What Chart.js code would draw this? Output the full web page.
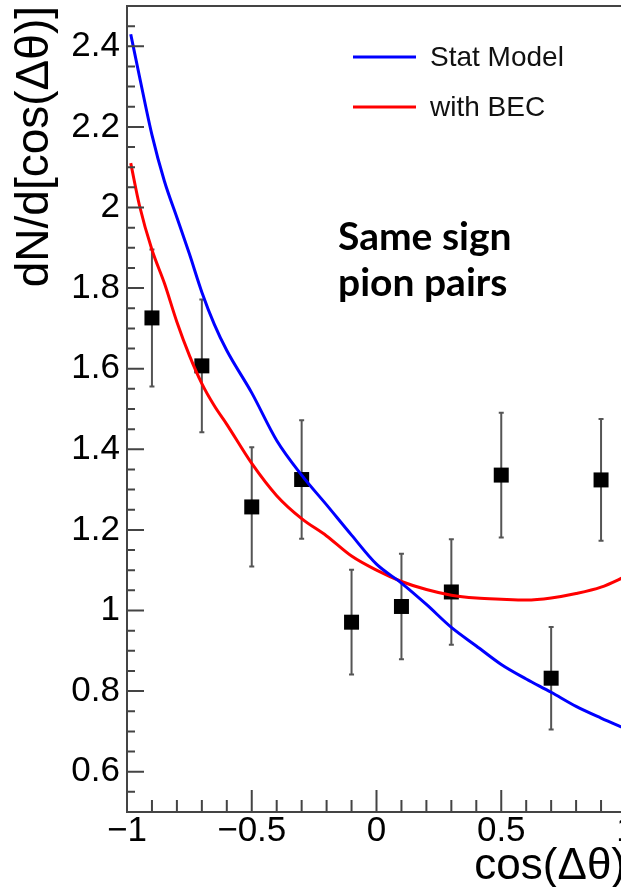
<!DOCTYPE html>
<html>
<head>
<meta charset="utf-8">
<script src="https://cdn.jsdelivr.net/npm/chart.js@4/dist/chart.umd.min.js"></script>
<style>
  html, body { margin: 0; padding: 0; background: #fff; overflow: hidden; }
  #wrap { position: relative; width: 640px; height: 887px; }
</style>
</head>
<body>
<div id="wrap"><canvas id="chart"></canvas></div>
<script>
// model curves
const curveX = [-0.985, -0.95, -0.9, -0.85, -0.8, -0.75, -0.7, -0.65, -0.6, -0.5, -0.4, -0.3, -0.2,
  -0.1, 0, 0.1, 0.2, 0.3, 0.4, 0.5, 0.6, 0.7, 0.8, 0.9, 1.0];
const statModel = [2.43, 2.325, 2.18, 2.065, 1.975, 1.885, 1.79, 1.71, 1.645, 1.54, 1.422, 1.336, 1.262,
  1.187, 1.115, 1.068, 1.015, 0.958, 0.912, 0.866, 0.83, 0.797, 0.762, 0.733, 0.706];
const withBEC = [2.11, 2.005, 1.895, 1.812, 1.716, 1.633, 1.563, 1.508, 1.462, 1.365, 1.285, 1.228, 1.185,
  1.135, 1.1, 1.072, 1.052, 1.038, 1.031, 1.028, 1.026, 1.031, 1.042, 1.058, 1.085];

// measured points
const pointX = [-0.9, -0.7, -0.5, -0.3, -0.1, 0.1, 0.3, 0.5, 0.7, 0.9];
const pointY = [1.726, 1.607, 1.257, 1.325, 0.971, 1.01, 1.046, 1.336, 0.832, 1.324];
const pointErr = [0.17, 0.165, 0.148, 0.147, 0.13, 0.131, 0.131, 0.155, 0.127, 0.151];

// axis ticks
const xTicks = [-1, -0.5, 0, 0.5, 1];
const yTicks = [0.6, 0.8, 1, 1.2, 1.4, 1.6, 1.8, 2, 2.2, 2.4];

const AXIS_COLOR = "#444";
const LABEL_FONT = "Liberation Sans, Arial, sans-serif";

const decorations = {
  id: "decorations",
  beforeDatasetsDraw(chart) {
    const { ctx, scales: { x, y } } = chart;
    ctx.save();
    ctx.strokeStyle = "#555";
    ctx.lineWidth = 2;
    pointX.forEach((v, i) => {
      const px = x.getPixelForValue(v);
      const top = y.getPixelForValue(pointY[i] + pointErr[i]);
      const bot = y.getPixelForValue(pointY[i] - pointErr[i]);
      ctx.beginPath();
      ctx.moveTo(px, top);
      ctx.lineTo(px, bot);
      ctx.moveTo(px - 2.5, top);
      ctx.lineTo(px + 2.5, top);
      ctx.moveTo(px - 2.5, bot);
      ctx.lineTo(px + 2.5, bot);
      ctx.stroke();
    });
    ctx.restore();
  },
  afterDraw(chart) {
    const { ctx, chartArea: area, scales: { x, y } } = chart;
    ctx.save();
    ctx.strokeStyle = AXIS_COLOR;
    ctx.lineWidth = 2;

    // top frame line
    ctx.beginPath();
    ctx.moveTo(area.left, area.top);
    ctx.lineTo(area.right, area.top);
    ctx.stroke();

    // inward tick marks, x axis
    ctx.beginPath();
    for (let i = -10; i <= 10; i++) {
      const px = x.getPixelForValue(i / 10);
      const len = i % 5 === 0 ? 22 : 12;
      ctx.moveTo(px, area.bottom);
      ctx.lineTo(px, area.bottom - len);
    }
    // inward tick marks, y axis
    for (let i = 11; i <= 49; i++) {
      const py = y.getPixelForValue(i / 20);
      const len = i % 4 === 0 ? 17 : 8;
      ctx.moveTo(area.left, py);
      ctx.lineTo(area.left + len, py);
    }
    ctx.stroke();

    // legend
    ctx.font = "28px " + LABEL_FONT;
    ctx.textBaseline = "middle";
    ctx.fillStyle = "#111";
    const legendY = [57, 107];
    chart.data.datasets.slice(0, 2).forEach((ds, i) => {
      ctx.strokeStyle = ds.borderColor;
      ctx.lineWidth = 3;
      ctx.beginPath();
      ctx.moveTo(353, legendY[i]);
      ctx.lineTo(416, legendY[i]);
      ctx.stroke();
      ctx.fillText(ds.label, 430, legendY[i] + 1);
    });

    // annotation
    ctx.font = "bold 39px Lato, 'Open Sans', sans-serif";
    ctx.textBaseline = "alphabetic";
    ctx.fillStyle = "#000";
    ctx.fillText("Same sign", 338, 250);
    ctx.fillText("pion pairs", 338, 296);
    ctx.restore();
  }
};

const ctx = document.getElementById("chart").getContext("2d");

new Chart(ctx, {
  type: "line",
  data: {
    datasets: [
      {
        label: "Stat Model",
        data: curveX.map((v, i) => ({ x: v, y: statModel[i] })),
        borderColor: "#0000ff",
        borderWidth: 3,
        pointRadius: 0,
        cubicInterpolationMode: "monotone",
        order: 1,
      },
      {
        label: "with BEC",
        data: curveX.map((v, i) => ({ x: v, y: withBEC[i] })),
        borderColor: "#ff0000",
        borderWidth: 3,
        pointRadius: 0,
        cubicInterpolationMode: "monotone",
        order: 1,
      },
      {
        label: "data",
        data: pointX.map((v, i) => ({ x: v, y: pointY[i] })),
        showLine: false,
        pointStyle: "rect",
        pointRadius: 10.6,
        pointBorderWidth: 0,
        backgroundColor: "#000",
        borderColor: "#000",
        order: 2,
      },
    ],
  },
  options: {
    responsive: true,
    maintainAspectRatio: false,
    animation: false,
    layout: { autoPadding: false, padding: { left: 0, top: 6, right: 14, bottom: 0 } },
    plugins: { legend: { display: false }, tooltip: { enabled: false } },
    scales: {
      x: {
        type: "linear",
        min: -1,
        max: 1,
        afterBuildTicks: (s) => { s.ticks = xTicks.map((v) => ({ value: v })); },
        afterFit: (s) => {
          s.height = 75;
          s.paddingLeft = 0;
          s.paddingRight = 0;
        },
        grid: { display: false, drawTicks: false },
        border: { display: true, color: AXIS_COLOR, width: 2 },
        ticks: {
          autoSkip: false,
          maxRotation: 0,
          padding: 2,
          color: "#000",
          font: { family: LABEL_FONT, size: 35, lineHeight: 1 },
          callback: (v) => String(v).replace("-", "\u2212"),
        },
        title: {
          display: true,
          text: "cos(\u0394\u03b8)",
          align: "end",
          color: "#000",
          padding: { top: 0, bottom: 0 },
          font: { family: LABEL_FONT, size: 44, lineHeight: 0.9 },
        },
      },
      y: {
        type: "linear",
        min: 0.5,
        max: 2.5,
        afterBuildTicks: (s) => { s.ticks = yTicks.map((v) => ({ value: v })); },
        afterFit: (s) => {
          s.width = 127;
          s.paddingTop = 0;
          s.paddingBottom = 0;
        },
        grid: { display: false, drawTicks: false },
        border: { display: true, color: AXIS_COLOR, width: 2 },
        ticks: {
          padding: 7,
          color: "#000",
          font: { family: LABEL_FONT, size: 35 },
          callback: (v) => String(v),
        },
        title: {
          display: true,
          text: "dN/d[cos(\u0394\u03b8)]",
          align: "end",
          color: "#000",
          padding: { top: 8, bottom: 0 },
          font: { family: LABEL_FONT, size: 46 },
        },
      },
    },
  },
  plugins: [decorations],
});
</script>
</body>
</html>
